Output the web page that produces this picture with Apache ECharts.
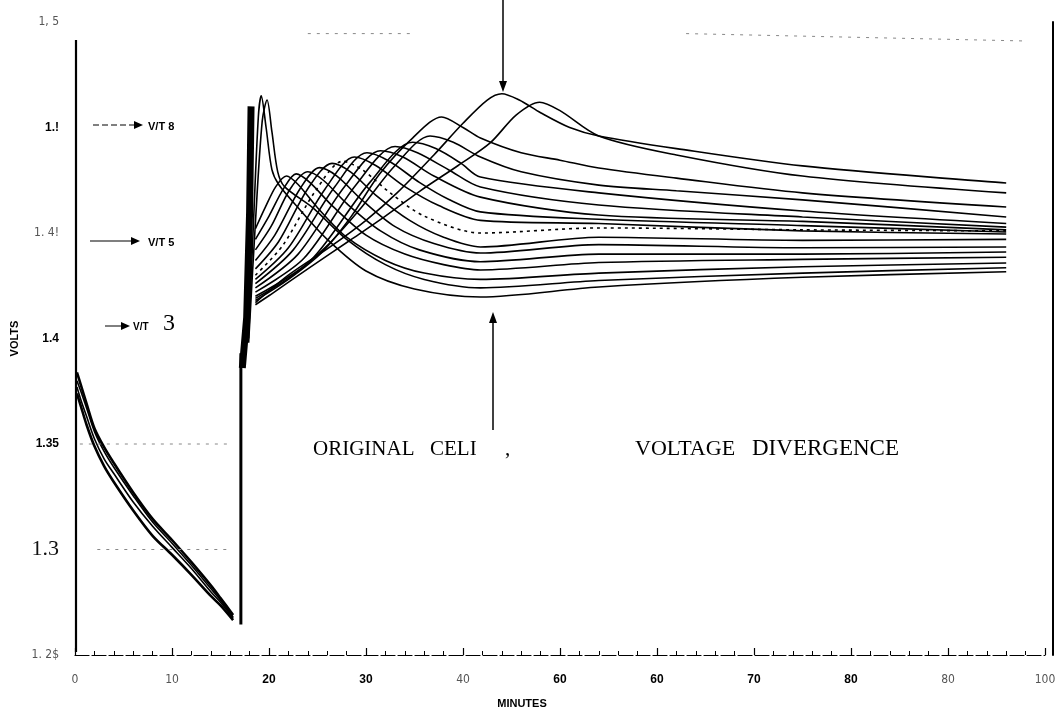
<!DOCTYPE html>
<html>
<head>
<meta charset="utf-8">
<script src="https://cdn.jsdelivr.net/npm/echarts@6/dist/echarts.min.js"></script>
<style>
html,body{margin:0;padding:0;background:#fff;}
#chart{width:1061px;height:721px;}
</style>
</head>
<body>
<div id="chart"></div>
<script>
// ---- tick labels (as printed) ----
const yTickLabels = ['1. 2$', '1.3', '1.35', '1.4', '1. 4!', '1.!', '1, 5'];
const yTickStyles = ['g', 's', 'b', 'b', 'g', 'b', 'g'];
const xTickLabels = ['0', '10', '20', '30', '40', '60', '60', '70', '80', '80', '100'];
const xTickStyles = ['g', 'g', 'b', 'b', 'g', 'b', 'b', 'b', 'b', 'g', 'g'];

// ---- discharge curves (minutes, volts) ----
const dischargeA = [[0.2,1.384],[0.6,1.378],[1.2,1.369],[2,1.3575],[3,1.3485],[4,1.341],[6,1.327],[8,1.3145],[10,1.3045],[12,1.294],[14,1.283],[15,1.277],[16.3,1.269]];
const dischargeB = [[0.2,1.380],[0.6,1.375],[1.2,1.367],[2,1.356],[3,1.3465],[4,1.339],[6,1.3255],[8,1.313],[10,1.303],[12,1.2925],[14,1.2815],[15,1.276],[16.3,1.268]];
const dischargeC = [[0.2,1.377],[0.6,1.371],[1.2,1.363],[2,1.3525],[3,1.343],[4,1.336],[6,1.3225],[8,1.311],[10,1.301],[12,1.291],[14,1.280],[15,1.275],[16.3,1.2675]];
const dischargeD = [[0.2,1.374],[0.6,1.368],[1.2,1.359],[2,1.349],[3,1.3395],[4,1.332],[6,1.3185],[8,1.3065],[10,1.2975],[12,1.288],[14,1.278],[15,1.2735],[16.3,1.2665]];

// ---- charge start ----
const chargeRise = [[17.1,1.2645],[17.1,1.393]];
const chargeBar = [[17.25,1.386],[17.7,1.41],[18.0,1.46],[18.15,1.51]];

// ---- charge curves (minutes, volts) ----
const charge01 = [[17.9,1.400],[18.4,1.455],[18.9,1.505],[19.2,1.515],[19.7,1.500],[20.3,1.480],[21,1.473],[23,1.462],[26,1.447],[30,1.432],[35,1.4235],[41.8,1.4197],[54,1.4244],[75,1.429],[96,1.4316]];
const charge02 = [[17.9,1.398],[18.6,1.455],[19.3,1.503],[19.8,1.513],[20.3,1.498],[20.9,1.479],[21.6,1.472],[24.5,1.462],[28,1.447],[32,1.435],[36,1.428],[41.8,1.424],[54,1.4275],[75,1.431],[96,1.4335]];
const charge03 = [[18.6,1.452],[19.6,1.462],[20.7,1.472],[21.8,1.477],[23,1.473],[25,1.462],[28,1.448],[32,1.437],[36,1.431],[41.8,1.428],[54,1.431],[75,1.434],[96,1.4358]];
const charge04 = [[18.6,1.447],[20,1.458],[21.5,1.471],[22.8,1.478],[24.2,1.474],[26.5,1.463],[30,1.449],[34,1.440],[38,1.435],[41.8,1.4325],[54,1.436],[75,1.4375],[96,1.4385]];
const charge05 = [[18.6,1.442],[20.2,1.453],[22.2,1.471],[24,1.479],[25.6,1.475],[28,1.464],[31.5,1.451],[35.5,1.442],[41.8,1.4364],[54,1.440],[75,1.440],[96,1.441]];
const charge06 = [[18.6,1.437],[20.6,1.449],[23.2,1.471],[25.2,1.481],[27,1.477],[29.5,1.466],[33,1.453],[37,1.445],[41.8,1.4405],[54,1.4445],[75,1.443],[96,1.4434]];
const charge07 = [[18.6,1.433],[21,1.446],[24,1.471],[26.5,1.483],[28.4,1.479],[31,1.468],[34.5,1.456],[38,1.448],[41.8,1.4434],[54,1.448],[75,1.4465],[96,1.447]];
const charge08 = [[18.6,1.430],[21.4,1.444],[24.8,1.470],[27.6,1.484],[29.6,1.480],[32.5,1.469],[36,1.458],[41.8,1.450],[54,1.4524],[75,1.4515],[96,1.451]];
const charge09 = [[18.6,1.428],[22,1.443],[25.8,1.471],[28.8,1.486],[31,1.482],[34,1.472],[37.5,1.463],[41.8,1.456],[54,1.4545],[75,1.451],[96,1.4495]];
const charge10 = [[18.6,1.426],[22.5,1.442],[26.8,1.472],[30.1,1.488],[32.4,1.484],[35.5,1.474],[38.5,1.466],[41.8,1.460],[54,1.4565],[75,1.4535],[96,1.4505]];
const charge11 = [[18.6,1.424],[23,1.440],[27.8,1.472],[31.5,1.489],[33.8,1.486],[37,1.477],[41.8,1.467],[54,1.4585],[75,1.4555],[96,1.4515]];
const charge12 = [[18.6,1.422],[23.6,1.438],[29,1.473],[33,1.491],[35.3,1.488],[38.5,1.480],[41.8,1.4718],[54,1.4633],[75,1.4576],[96,1.4528]];
const charge13 = [[18.6,1.420],[24.3,1.437],[30.4,1.474],[34.8,1.493],[37.2,1.490],[39.8,1.483],[41.8,1.4765],[54,1.469],[75,1.4604],[96,1.4545]];
const charge14 = [[18.6,1.419],[22.5,1.430],[26,1.444],[29.5,1.462],[33,1.482],[36.6,1.496],[39,1.493],[41.8,1.486],[46,1.479],[54,1.4727],[62,1.470],[75,1.4657],[96,1.4576]];
const charge15 = [[18.6,1.418],[22,1.428],[25.5,1.441],[28.5,1.458],[31.4,1.478],[34.8,1.495],[37.8,1.505],[40,1.500],[41.8,1.495],[46,1.488],[50,1.4845],[54,1.4808],[62,1.476],[75,1.469],[96,1.4623]];
const charge16 = [[18.6,1.417],[22,1.430],[26.3,1.4434],[30,1.456],[33.2,1.469],[37,1.487],[40,1.502],[42.5,1.513],[44,1.516],[45.8,1.513],[48,1.507],[51,1.500],[54,1.496],[62,1.490],[75,1.4818],[96,1.4737]];
const charge17 = [[18.6,1.416],[20.1,1.4206],[24,1.433],[28.4,1.4467],[32,1.458],[35.6,1.470],[39.5,1.482],[42.8,1.4927],[45.5,1.506],[47.9,1.512],[50,1.508],[54,1.496],[62,1.487],[75,1.477],[96,1.469]];
const dottedCurve = 8;

// ---- faint reference lines ----
const ref135 = [[0.5,1.35],[16,1.35]];
const ref130 = [[2.3,1.30],[16,1.30]];
const refTopA = [[24,1.5445],[35,1.5445]];
const refTopB = [[63,1.5445],[98,1.541]];

const chargeCurves = [charge01,charge02,charge03,charge04,charge05,charge06,charge07,charge08,charge09,charge10,charge11,charge12,charge13,charge14,charge15,charge16,charge17];
const dischargeCurves = [dischargeA,dischargeB,dischargeC,dischargeD];

const chart = echarts.init(document.getElementById('chart'), null, {renderer: 'canvas'});

const narrow = "'Liberation Sans Narrow','DejaVu Sans Condensed','Liberation Sans',sans-serif";
const rich = {
  g: {fontFamily: narrow, fontSize: 12, color: '#555'},
  b: {fontFamily: "'Liberation Sans',Arial,sans-serif", fontWeight: 'bold', fontSize: 12, color: '#000'},
  s: {fontFamily: "'Liberation Serif',serif", fontSize: 22, color: '#111'}
};

const series = [];
function lineSeries(data, opts) {
  return Object.assign({
    type: 'line', data: data, showSymbol: false, symbol: 'none', silent: true,
    smooth: 0.3, animation: false,
    lineStyle: {color: '#000', width: 1.6}
  }, opts || {});
}
dischargeCurves.forEach(function (d, i) {
  series.push(lineSeries(d, {lineStyle: {color: '#000', width: i % 3 === 0 ? 2.6 : 1.6}}));
});
series.push(lineSeries(chargeRise, {smooth: false, lineStyle: {color: '#000', width: 3}}));
series.push(lineSeries(chargeBar, {smooth: false, lineStyle: {color: '#000', width: 7}}));
chargeCurves.forEach(function (d, i) {
  series.push(lineSeries(d, {lineStyle: {color: '#000', width: 1.6, type: (i + 1) === dottedCurve ? [3, 4] : 'solid'}}));
});
[ref135, ref130, refTopA, refTopB].forEach(function (d) {
  series.push(lineSeries(d, {smooth: false, lineStyle: {color: '#888', width: 1, type: [3, 6]}}));
});

function arrowHead(x, y, dir) {
  let pts;
  if (dir === 'r') pts = [[x - 9, y - 4], [x, y], [x - 9, y + 4]];
  else if (dir === 'u') pts = [[x - 4, y + 11], [x, y], [x + 4, y + 11]];
  else pts = [[x - 4, y - 11], [x, y], [x + 4, y - 11]];
  return {type: 'polygon', shape: {points: pts}, style: {fill: '#000'}, silent: true};
}
function seg(x1, y1, x2, y2, w, dash) {
  return {type: 'line', shape: {x1: x1, y1: y1, x2: x2, y2: y2}, style: {stroke: '#000', lineWidth: w || 1, lineDash: dash || null}, silent: true};
}
function txt(x, y, t, font, fill, align) {
  return {type: 'text', x: x, y: y, style: {text: t, font: font, fill: fill || '#000', textAlign: align || 'left', textVerticalAlign: 'middle'}, silent: true};
}
const serif = "21px 'Liberation Serif', serif";
const graphics = [
  seg(76, 40, 76, 652, 2.2),
  seg(93, 125, 136, 125, 1, [6, 3]), arrowHead(143, 125, 'r'),
  txt(148, 127, 'V/T 8', "bold 11px 'Liberation Sans', sans-serif"),
  seg(90, 241, 132, 241, 1.2), arrowHead(140, 241, 'r'),
  txt(148, 243, 'V/T 5', "bold 11px 'Liberation Sans', sans-serif"),
  seg(105, 326, 123, 326, 1), arrowHead(130, 326, 'r'),
  txt(133, 327, 'V/T', "bold 10px 'Liberation Sans', sans-serif"),
  txt(163, 324, '3', "24px 'Liberation Serif', serif"),
  seg(493, 430, 493, 322, 1.5), arrowHead(493, 312, 'u'),
  seg(503, 0, 503, 82, 1.5), arrowHead(503, 92, 'd'),
  txt(313, 449, 'ORIGINAL', serif),
  txt(430, 449, 'CELI', serif),
  txt(505, 449, ',', serif),
  txt(635, 449, 'VOLTAGE', "22px 'Liberation Serif', serif"),
  txt(752, 449, 'DIVERGENCE', "23px 'Liberation Serif', serif"),
  txt(522, 704, 'MINUTES', "bold 11px 'Liberation Sans', sans-serif", '#000', 'center')
];

chart.setOption({
  backgroundColor: '#fff',
  animation: false,
  grid: {left: 75, right: 16, top: 22, bottom: 66},
  xAxis: {
    type: 'value', min: 0, max: 100, interval: 10,
    axisLine: {show: true, onZero: false, lineStyle: {color: '#000', width: 1.2, type: [14, 3]}},
    axisTick: {show: true, inside: true, length: 7, lineStyle: {color: '#000', width: 1.2}},
    minorTick: {show: true, splitNumber: 5, length: 4, lineStyle: {color: '#000'}},
    splitLine: {show: false},
    axisLabel: {
      margin: 19, rich: rich,
      formatter: function (v) {
        const i = Math.round(v / 10);
        return '{' + xTickStyles[i] + '|' + xTickLabels[i] + '}';
      }
    }
  },
  yAxis: [{
    type: 'value', min: 1.25, max: 1.55, interval: 0.05,
    name: 'VOLTS', nameLocation: 'middle', nameRotate: 90, nameGap: 55,
    nameTextStyle: {fontFamily: "'Liberation Sans',sans-serif", fontWeight: 'bold', fontSize: 11, color: '#000'},
    axisLine: {show: false, onZero: false},
    axisTick: {show: false},
    splitLine: {show: false},
    axisLabel: {
      margin: 16, rich: rich,
      formatter: function (v) {
        const i = Math.round((v - 1.25) / 0.05);
        return '{' + yTickStyles[i] + '|' + yTickLabels[i] + '}';
      }
    }
  }, {
    type: 'value', min: 1.25, max: 1.55, interval: 0.05, position: 'right', offset: 8,
    axisLine: {show: true, onZero: false, lineStyle: {color: '#000', width: 2}},
    axisTick: {show: false}, axisLabel: {show: false}, splitLine: {show: false}
  }],
  series: series,
  graphic: graphics
});
</script>
</body>
</html>
